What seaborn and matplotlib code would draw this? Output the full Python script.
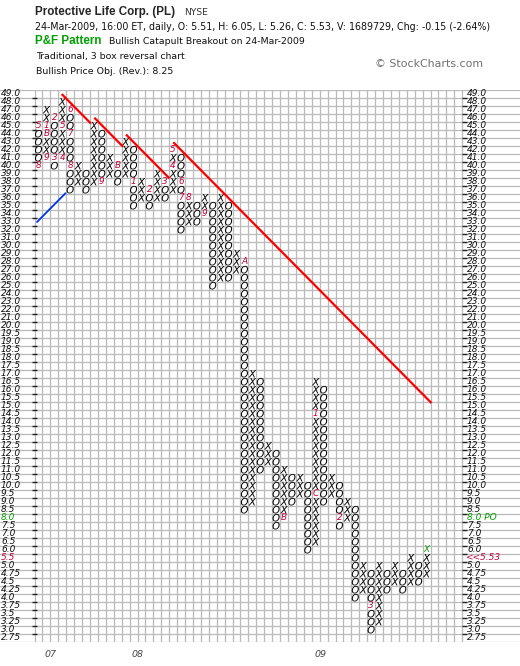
import numpy as np
import pandas as pd
import matplotlib
matplotlib.use('Agg')
import matplotlib.pyplot as plt
import matplotlib.transforms as mtransforms
import seaborn as sns

# ------------ chart data --------------
# box scale, top to bottom (traditional P&F box sizes)
price_labels = ['49.0', '48.0', '47.0', '46.0', '45.0', '44.0', '43.0', '42.0', '41.0', '40.0',
                '39.0', '38.0', '37.0', '36.0', '35.0', '34.0', '33.0', '32.0', '31.0', '30.0',
                '29.0', '28.0', '27.0', '26.0', '25.0', '24.0', '23.0', '22.0', '21.0', '20.0',
                '19.5', '19.0', '18.5', '18.0', '17.5', '17.0', '16.5', '16.0', '15.5', '15.0',
                '14.5', '14.0', '13.5', '13.0', '12.5', '12.0', '11.5', '11.0', '10.5', '10.0',
                '9.5', '9.0', '8.5', '8.0', '7.5', '7.0', '6.5', '6.0', '5.5', '5.0',
                '4.75', '4.5', '4.25', '4.0', '3.75', '3.5', '3.25', '3.0', '2.75']

# one entry per column: X = rising, O = falling
col_kind = list('OX' * 25)
col_high = [45, 47, 46, 48, 47, 40, 39, 45, 44, 41, 40, 43, 42, 38, 37, 39, 38, 42, 41, 36,
            35, 36, 35, 36, 35, 29, 28, 17.0, 16.5, 12.5, 12.0, 11.0, 10.5, 10.5, 10.0, 16.5,
            16.0, 10.5, 10.0, 9.0, 8.5, 5.0, 4.75, 5.0, 4.75, 5.0, 4.75, 5.5, 5.0, 6.0]
col_low = [40, 41, 40, 41, 37, 38, 37, 38, 38, 39, 38, 39, 35, 36, 35, 36, 36, 37, 32, 33,
           33, 34, 25, 26, 26, 27, 8.5, 9.0, 11.0, 11.5, 7.5, 8.0, 9.0, 9.5, 6.0, 6.5,
           9.0, 9.5, 7.5, 8.0, 4.0, 4.25, 3.0, 3.25, 4.25, 4.5, 4.25, 4.5, 4.5, 4.75]

# month markers (column, price, month code)
month_col = [0, 0, 1, 1, 1, 2, 2, 3, 3, 4, 4, 4, 8, 10, 12, 14, 16, 17, 17, 18, 18, 19, 21,
             26, 31, 35, 35, 38, 42]
month_price = [45, 40, 41, 44, 45, 46, 41, 41, 45, 47, 44, 40, 38, 40, 38, 37, 38, 40, 42, 38,
               36, 36, 34, 28, 8.0, 9.5, 14.5, 8.0, 3.75]
month_code = ['5', '8', '9', 'B', '1', '2', '3', '4', '5', '6', '7', '8', '9', 'B', '1', '2',
              '3', '4', '5', '6', '7', '8', '9', 'A', 'B', 'C', '1', '2', '3']

# latest box (breakout) in green
last_col, last_price = 49, 6.0

# trend lines: start column, start box row, length in columns (45 degree)
red_col0 = [2.93, 7.05, 11.05, 17.02]
red_row0 = [0.04, 3.0, 5.1, 6.07]
red_len = [3.7, 3.63, 5.5, 32.6]
blue_col0, blue_row0, blue_len = -0.19, 16.04, 3.6

years = ['07', '08', '09']
year_col = [0.8, 11.8, 34.8]

price_obj_label = '8.0'
last_close_label = '5.5'

# ------------ layout --------------
W, H = 520, 666
CROSS = '#c4003a'
GREEN = '#00a000'
GRID = '#b9b9b9'


def fx(px):
    return px / W


def fy(py):
    return 1 - py / H


sns.set_style('white')
plt.rcParams['font.family'] = ['DejaVu Sans']
plt.rcParams['mathtext.fontset'] = 'dejavusans'

prices = [float(p) for p in price_labels]
row_of = {p: i for i, p in enumerate(prices)}

# build the box table
marked = set(zip(month_col, month_price)) | {(last_col, last_price)}
rows = []
for c, (k, hi, lo) in enumerate(zip(col_kind, col_high, col_low)):
    for r in range(row_of[hi], row_of[lo] + 1):
        if (c, prices[r]) in marked:
            continue
        rows.append({'col': c, 'row': r, 'kind': k})
boxes = pd.DataFrame(rows)

fig = plt.figure(figsize=(W / 100, H / 100), dpi=100)
grid_top, grid_bot = 89.7, 641.7
ax = fig.add_axes([0, fy(grid_bot), 1, (grid_bot - grid_top) / H])

sns.scatterplot(data=boxes, x='col', y='row', style='kind',
                markers={'X': '$X$', 'O': '$O$'}, color='black', s=30,
                linewidth=0, legend=False, ax=ax, zorder=3)

# green breakout box
ax.text(last_col, row_of[last_price], 'X', color=GREEN, fontsize=6.3, style='italic',
        ha='center', va='center', zorder=4)

# month codes
for c, p, m in zip(month_col, month_price, month_code):
    ax.text(c, row_of[p], m, color=CROSS, fontsize=6.4, style='italic',
            ha='center', va='center', zorder=4)

# trend lines
for c0, r0, n in zip(red_col0, red_row0, red_len):
    ax.plot([c0, c0 + n], [r0, r0 + n], color='#ff0000', lw=1.6, zorder=5,
            solid_capstyle='butt')
ax.plot([blue_col0, blue_col0 + blue_len], [blue_row0, blue_row0 - blue_len],
        color='#0033ee', lw=1.3, zorder=5)

ax.set_xlim(-38.5 / 7.92, (W - 38.5) / 7.92)
ax.set_ylim(len(prices) - 0.5, -0.5)
ax.set_xlabel('')
ax.set_ylabel('')

# cell grid
n_cols = 54
ax.set_xticks(np.arange(-0.5, n_cols, 1), minor=True)
ax.set_yticks(np.arange(-0.5, len(prices), 1), minor=True)
ax.grid(which='minor', color=GRID, lw=0.9)
ax.grid(which='major', visible=False)
ax.set_yticks([])
for s in ax.spines.values():
    s.set_visible(False)

# year ticks
ax.set_xticks(year_col, labels=years)
ax.tick_params(axis='x', which='major', length=4.5, width=0.9, color='#333333',
               pad=1.5, labelsize=6.8, labelcolor='#444444')
ax.tick_params(which='minor', length=0)
for t in ax.get_xticklabels():
    t.set_ha('left')
    t.set_style('italic')

# price labels and small tick marks
trans = mtransforms.blended_transform_factory(fig.transFigure, ax.transData)
ax.hlines(np.arange(0.5, len(prices) - 1, 1), -0.82, -0.19, color='#222222', lw=1, zorder=4)
ax.hlines(np.arange(0.5, len(prices) - 1, 1), n_cols - 0.55, n_cols + 0.05, color='#222222',
          lw=1, zorder=4, clip_on=False)
for i, lab in enumerate(price_labels):
    left_text, right_text, colr = lab, lab, '#111111'
    if lab == price_obj_label:
        right_text, colr = lab + ' PO', GREEN
    elif lab == last_close_label:
        right_text, colr = '<<5.53', CROSS
    ax.text(fx(1), i, left_text, transform=trans, fontsize=6.5, style='italic',
            color=colr, ha='left', va='center', zorder=4)
    ax.text(fx(467 if lab != last_close_label else 465), i, right_text, transform=trans,
            fontsize=6.5, style='italic', color=colr, ha='left', va='center', zorder=4)

# header
fig.text(fx(35), fy(12.5), 'Protective Life Corp. (PL)', family='Liberation Sans',
         weight='bold', fontsize=8.4, va='center')
fig.text(fx(184), fy(12.5), 'NYSE', fontsize=6.6, color='#333333', va='center')
fig.text(fx(35), fy(27), '24-Mar-2009, 16:00 ET, daily, O: 5.51, H: 6.05, L: 5.26, C: 5.53, '
         'V: 1689729, Chg: -0.15 (-2.64%)', fontsize=6.88, color='#111111', va='center')
fig.text(fx(35), fy(41.5), 'P&F Pattern', family='Liberation Sans', weight='bold',
         fontsize=8.4, color=GREEN, va='center')
fig.text(fx(109), fy(42), 'Bullish Catapult Breakout on 24-Mar-2009', fontsize=6.75,
         color='#111111', va='center')
fig.text(fx(36), fy(57), 'Traditional, 3 box reversal chart', fontsize=6.75,
         color='#111111', va='center')
fig.text(fx(36), fy(72), 'Bullish Price Obj. (Rev.): 8.25', fontsize=6.8,
         color='#111111', va='center')
fig.text(fx(375), fy(64), '\u00a9 StockCharts.com', fontsize=7.9, color='#707070',
         va='center')

fig.savefig('out.png', dpi=100)
